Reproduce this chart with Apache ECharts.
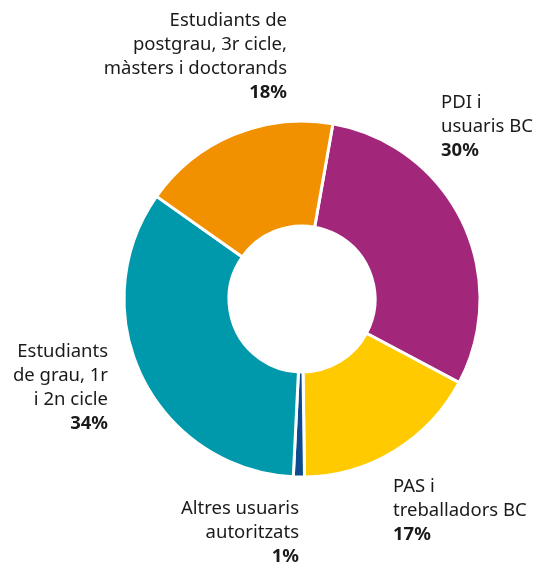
<!DOCTYPE html>
<html>
<head>
<meta charset="utf-8">
<script src="https://cdn.jsdelivr.net/npm/echarts@6/dist/echarts.min.js"></script>
<style>html,body{margin:0;padding:0;background:#fff}#c{width:537px;height:564px}</style>
</head>
<body>
<div id="c"></div>
<script>
const categories = ['PDI i\nusuaris BC', 'PAS i\ntreballadors BC', 'Altres usuaris\nautoritzats', 'Estudiants\nde grau, 1r\ni 2n cicle', 'Estudiants de\npostgrau, 3r cicle,\nmàsters i doctorands'];
const values = [30, 17, 1, 34, 18];
const colors = ['#A2267A', '#FFCA00', '#0E4A8F', '#0098AB', '#F29100'];
// label anchor [x, top y, align]
const labelPos = [[441, 91, 'left'], [393, 475, 'left'], [299, 497, 'right'], [108, 340, 'right'], [287, 9, 'right']];

const chart = echarts.init(document.getElementById('c'), null, {renderer: 'canvas'});
const FONT = 'Noto Sans';
chart.setOption({
  animation: false,
  series: [{
    type: 'pie',
    radius: [73, 178],
    center: [302, 299],
    startAngle: 80,
    clockwise: true,
    avoidLabelOverlap: false,
    itemStyle: {borderColor: '#fff', borderWidth: 3},
    labelLine: {show: false},
    label: {
      show: true,
      position: 'outside',
      formatter: function (p) {
        return p.name.split('\n').map(s => '{n|' + s + '}').join('\n') + '\n{b|' + p.value + '%}';
      },
      rich: {
        n: {fontFamily: FONT, fontSize: 18.5, lineHeight: 24, color: '#1a1a1a'},
        b: {fontFamily: FONT, fontSize: 18.5, lineHeight: 24, fontWeight: 'bold', color: '#1a1a1a'}
      }
    },
    labelLayout: function (params) {
      const p = labelPos[params.dataIndex];
      return {x: p[0], y: p[1], align: p[2], verticalAlign: 'top'};
    },
    data: categories.map((c, i) => ({name: c, value: values[i], itemStyle: {color: colors[i]}}))
  }]
});
</script>
</body>
</html>
